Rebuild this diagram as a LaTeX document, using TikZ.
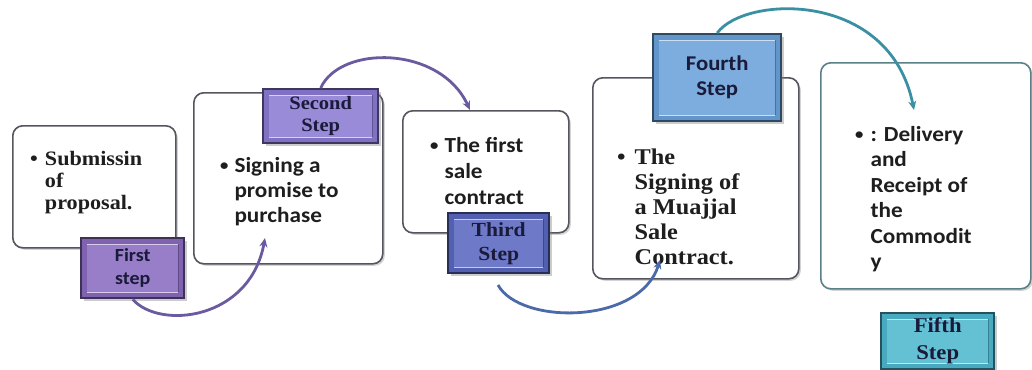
\documentclass[tikz,border=0pt]{standalone}
\usepackage{fontspec}
\setmainfont{Liberation Serif}
\newfontfamily\serifb[FakeStretch=1.08]{Liberation Serif}
\newfontfamily\calb[FakeStretch=1.08]{Carlito}
\usetikzlibrary{arrows.meta,shadows}
\definecolor{pA}{HTML}{8A6CC0}
\definecolor{pB}{HTML}{8B7BD3}
\definecolor{pC}{HTML}{5A68C0}
\definecolor{pD}{HTML}{6AA2DA}
\definecolor{pE}{HTML}{4FB8CE}
\definecolor{aP}{HTML}{6A5AA0}
\definecolor{aB}{HTML}{4A6AAA}
\definecolor{aT}{HTML}{3A90A2}
\definecolor{cardline}{HTML}{55555F}
\definecolor{cardlineT}{HTML}{5A8088}
\definecolor{txt}{HTML}{1E1E1E}
\definecolor{ltxt}{HTML}{1A1A3A}
\newcommand\mybul{\raisebox{1.5pt}{\scalebox{0.72}{\textbullet}}}
\tikzset{
  card/.style={draw=cardline, line width=1.6pt, rounded corners=10pt, fill=white,
    minimum width=#1, anchor=north west, inner sep=0pt,
    drop shadow={opacity=0.35, shadow xshift=2pt, shadow yshift=-2pt}},
  stepbox/.style={fill=#1!92!black, draw=#1!45!black, line width=2.4pt, inner sep=0pt,
    anchor=north west, align=center, text=ltxt,
    drop shadow={opacity=0.4, shadow xshift=2.5pt, shadow yshift=-2.5pt},
    path picture={
      \fill[#1!88!white]
        ([xshift=6pt,yshift=-6pt]path picture bounding box.north west) rectangle
        ([xshift=-6pt,yshift=6pt]path picture bounding box.south east);
      \draw[#1!35!white, line width=1.3pt]
        ([xshift=6pt,yshift=-6pt]path picture bounding box.north west) --
        ([xshift=-6pt,yshift=-6pt]path picture bounding box.north east);
      \draw[#1!35!white, line width=1.3pt]
        ([xshift=6pt,yshift=6pt]path picture bounding box.south west) --
        ([xshift=-6pt,yshift=6pt]path picture bounding box.south east);
      \draw[#1!70!black, line width=1pt]
        ([xshift=-6pt,yshift=-6pt]path picture bounding box.north east) --
        ([xshift=-6pt,yshift=6pt]path picture bounding box.south east);}},
  bodytext/.style={anchor=base west, inner sep=0pt, text=txt},
  conn/.style={-{Stealth[length=9pt,width=8pt]}, line width=2.8pt},
}
\begin{document}
\begin{tikzpicture}[x=1pt,y=-1pt]
\useasboundingbox (0,0) rectangle (1032,369);
% cards
\node[card=163pt, minimum height=122pt] (c1) at (12,125) {};
\node[card=189pt, minimum height=171pt] (c2) at (193,92) {};
\node[card=166pt, minimum height=122pt] (c3) at (402,110) {};
\node[card=206pt, minimum height=201pt] (c4) at (592,77) {};
\node[card=210pt, minimum height=226pt, draw=cardlineT] (c5) at (820,62) {};
% texts
\node[bodytext, font=\serifb\bfseries\fontsize{20.5}{22}\selectfont] (t1) at (30,165)
  {\begin{tabular}[t]{@{}l@{\hspace{7pt}}l@{}}\textbullet & Submissin\\ & of\\ & proposal.\end{tabular}};
\node[bodytext, font=\calb\bfseries\fontsize{21.5}{25}\selectfont] (t2) at (220,172)
  {\begin{tabular}[t]{@{}l@{\hspace{6pt}}l@{}}\mybul & Signing a\\ & promise to\\ & purchase\end{tabular}};
\node[bodytext, font=\calb\bfseries\fontsize{21.5}{26}\selectfont] (t3) at (430,152)
  {\begin{tabular}[t]{@{}l@{\hspace{6pt}}l@{}}\mybul & The first\\ & sale\\ & contract\end{tabular}};
\node[bodytext, font=\serifb\bfseries\fontsize{22.5}{25}\selectfont] (t4) at (617,164)
  {\begin{tabular}[t]{@{}l@{\hspace{9pt}}l@{}}\textbullet & The\\ & Signing of\\ & a Muajjal\\ & Sale\\ & Contract.\end{tabular}};
\node[bodytext, font=\calb\bfseries\fontsize{21.5}{25.5}\selectfont] (t5) at (855,141)
  {\begin{tabular}[t]{@{}l@{\hspace{7pt}}l@{}}\mybul & : Delivery\\ & and\\ & Receipt of\\ & the\\ & Commodit\\ & y\end{tabular}};
% step labels
\node[stepbox=pA, minimum width=103pt, minimum height=60pt,
  font=\calb\bfseries\fontsize{18.5}{23}\selectfont] (s1) at (80,237) {First\\step};
\node[stepbox=pB, minimum width=115pt, minimum height=54pt,
  font=\serifb\bfseries\fontsize{19}{22}\selectfont] (s2) at (262,88) {Second\\Step};
\node[stepbox=pC, minimum width=101pt, minimum height=60pt,
  font=\serifb\bfseries\fontsize{20}{24}\selectfont] (s3) at (447,212) {Third\\Step};
\node[stepbox=pD, minimum width=128pt, minimum height=87pt,
  font=\calb\bfseries\fontsize{21}{25}\selectfont] (s4) at (652,33) {Fourth\\Step};
\node[stepbox=pE, minimum width=113pt, minimum height=56pt,
  font=\serifb\bfseries\fontsize{21}{27}\selectfont] (s5) at (880,312) {Fifth\\Step};
% connectors
\coordinate (e1) at (265,238);
\coordinate (e2) at (470,110);
\coordinate (e3) at (660,260);
\coordinate (e4) at (914,110);
\coordinate (b3) at (498,285);
\draw[conn, aP] (s1.south) .. controls (160,330) and (250,320) .. (e1);
\draw[conn, aP] (s2.north) .. controls (340,45) and (440,45) .. (e2);
\draw[conn, aB] (b3) .. controls (520,325) and (640,325) .. (e3);
\draw[conn, aT] (s4.north) .. controls (745,-5) and (890,-10) .. (e4);
\end{tikzpicture}
\end{document}
